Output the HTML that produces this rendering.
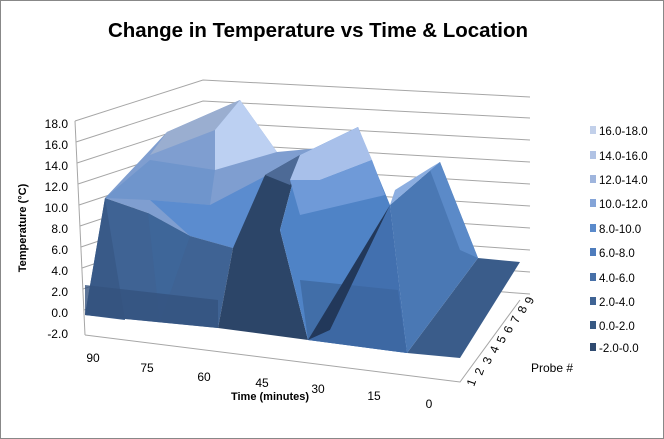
<!DOCTYPE html>
<html><head><meta charset="utf-8"><style>
body{margin:0;background:#fff}
svg{display:block;font-family:"Liberation Sans",sans-serif}
</style></head><body>
<svg width="664" height="439" viewBox="0 0 664 439">
<rect x="0.5" y="0.5" width="663" height="438" fill="#fff" stroke="#888"/>
<text x="318" y="37" font-size="20" font-weight="bold" text-anchor="middle" fill="#000" textLength="420" lengthAdjust="spacingAndGlyphs">Change in Temperature vs Time &amp; Location</text>
<g stroke="#a6a6a6" stroke-width="1" fill="none">
<polyline points="75,121 203,80 530,97"/>
<polyline points="76,142 203,101 530,118"/>
<polyline points="77,163 203,122 530,140"/>
<polyline points="78,184 203,143 530,162"/>
<polyline points="79,205 203,164 530,184"/>
<polyline points="80,226 203,185 530,206"/>
<polyline points="81,247 203,206 530,228"/>
<polyline points="82,268 203,227 530,250"/>
<polyline points="83,289 203,248 530,272"/>
<polyline points="84,310 203,269 530,294"/>
<polyline points="85,335 460,382 520,300"/>
<line x1="75" y1="121" x2="85" y2="335"/>
</g>
<g font-size="12" fill="#000" text-anchor="end">
<text x="68" y="128">18.0</text><text x="68" y="149">16.0</text><text x="68" y="170">14.0</text>
<text x="68" y="191">12.0</text><text x="68" y="212">10.0</text><text x="68" y="233">8.0</text>
<text x="68" y="254">6.0</text><text x="68" y="275">4.0</text><text x="68" y="296">2.0</text>
<text x="68" y="317">0.0</text><text x="68" y="338">-2.0</text>
</g>
<text transform="translate(26,228) rotate(-90)" font-size="11" font-weight="bold" text-anchor="middle">Temperature (°C)</text>
<g stroke-linejoin="round">
<polygon points="460,358 520,262 478,258 407,353" fill="#3a5c8a"/>
<polygon points="407,353 478,258 440,162 390,205" fill="#4a78b4"/>
<polygon points="440,162 478,258 460,250 430,170" fill="#5b8ac8"/>
<polygon points="390,205 440,162 430,168 395,190" fill="#8caee0"/>
<polygon points="105,198 167,132 240,100 277,152 320,148 265,175 233,248 190,236 148,213" fill="#7f9ed0"/>
<polygon points="167,132 240,100 215,130 150,155" fill="#9aaed0"/>
<polygon points="240,100 277,152 215,170 215,130" fill="#bcd0f2"/>
<polygon points="105,198 150,160 215,170 210,205 150,200" fill="#6f95cc"/>
<polygon points="150,200 210,205 277,170 290,180 233,248 190,236" fill="#5b8ccf"/>
<polygon points="85,315 105,198 148,213 190,236 233,248 218,328" fill="#3f6394"/>
<polygon points="85,315 105,198 125,320" fill="#395a88"/>
<polygon points="148,213 160,322 190,236" fill="#3e6699"/>
<polygon points="85,285 218,300 218,328 85,315" fill="#34537e" opacity="0.8"/>
<polygon points="218,328 233,248 265,175 300,155 280,230 308,340" fill="#2c4568"/>
<polygon points="265,175 300,155 320,148 290,185" fill="#4d6a96"/>
<polygon points="280,230 300,155 358,127 390,205 407,353 308,340" fill="#4f83c6"/>
<polygon points="290,180 300,155 358,127 372,160 320,180" fill="#a8c0ea"/>
<polygon points="290,180 320,180 372,160 385,195 300,215" fill="#6f9ad8"/>
<polygon points="300,280 398,290 407,353 308,340" fill="#416ea8"/>
<polygon points="308,340 390,205 330,330" fill="#22385a"/>
<polygon points="308,340 330,330 390,205 407,353" fill="#3a64a0" opacity="0.6"/>
</g>
<g font-size="12" text-anchor="middle">
<text x="93" y="362">90</text><text x="147" y="372">75</text><text x="204" y="381">60</text>
<text x="262" y="387">45</text><text x="318" y="393">30</text><text x="374" y="400">15</text><text x="429" y="408">0</text>
</g>
<text x="270" y="400" font-size="11" font-weight="bold" text-anchor="middle">Time (minutes)</text>
<g font-size="12">
<text transform="translate(474,387) rotate(-70)">1</text>
<text transform="translate(482,376) rotate(-70)">2</text>
<text transform="translate(490,365) rotate(-70)">3</text>
<text transform="translate(497,354) rotate(-70)">4</text>
<text transform="translate(504,344) rotate(-70)">5</text>
<text transform="translate(511,334) rotate(-70)">6</text>
<text transform="translate(518,324) rotate(-70)">7</text>
<text transform="translate(525,314) rotate(-70)">8</text>
<text transform="translate(532,305) rotate(-70)">9</text>
</g>
<text x="531" y="372" font-size="12">Probe #</text>
<g font-size="11.5">
<rect x="590" y="126" width="6" height="8" fill="#c2d0ea"/><text x="599" y="135">16.0-18.0</text>
<rect x="590" y="151" width="6" height="8" fill="#b0c2e4"/><text x="599" y="160">14.0-16.0</text>
<rect x="590" y="175" width="6" height="8" fill="#9fb5dd"/><text x="599" y="184">12.0-14.0</text>
<rect x="590" y="199" width="6" height="8" fill="#84a4d8"/><text x="599" y="208">10.0-12.0</text>
<rect x="590" y="224" width="6" height="8" fill="#5a8acb"/><text x="599" y="233">8.0-10.0</text>
<rect x="590" y="248" width="6" height="8" fill="#4e7cbc"/><text x="599" y="257">6.0-8.0</text>
<rect x="590" y="273" width="6" height="8" fill="#4770a8"/><text x="599" y="282">4.0-6.0</text>
<rect x="590" y="297" width="6" height="8" fill="#3f6394"/><text x="599" y="306">2.0-4.0</text>
<rect x="590" y="321" width="6" height="8" fill="#375882"/><text x="599" y="330">0.0-2.0</text>
<rect x="590" y="343" width="6" height="8" fill="#2f4a70"/><text x="599" y="352">-2.0-0.0</text>
</g>
</svg>
</body></html>
